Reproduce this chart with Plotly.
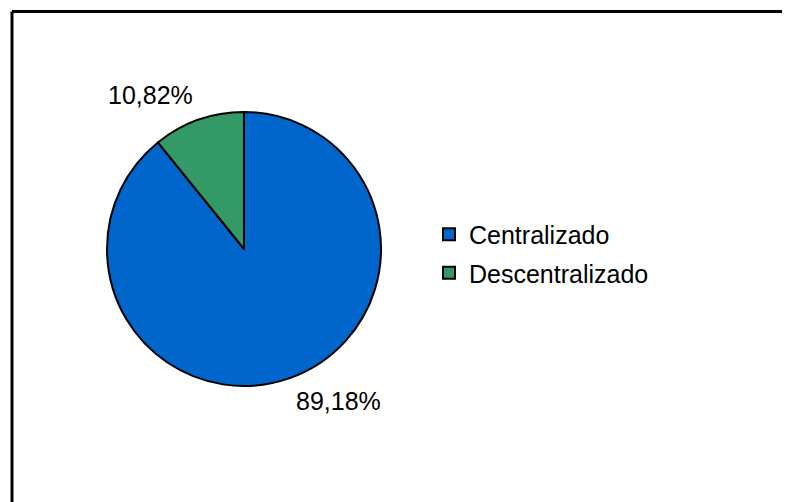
import plotly.graph_objects as go

labels = ["Centralizado", "Descentralizado"]
values = [89.18, 10.82]
colors = ["#0066CC", "#339966"]

W, H = 790, 502
OFF = 8  # page body margin pushes the figure 8px right/down


def px_x(x):
    return (x - OFF) / W


def px_y(y):
    return 1 - (y - OFF) / H


fig = go.Figure()

fig.add_trace(go.Pie(
    labels=labels,
    values=values,
    sort=False,
    direction="clockwise",
    rotation=0,
    marker=dict(colors=colors, line=dict(color="black", width=2)),
    textinfo="none",
    hoverinfo="label+percent",
    showlegend=False,
    domain=dict(x=[px_x(107), px_x(381)], y=[px_y(386), px_y(112)]),
))

# legend entries as dummy markers so the spacing can be tuned
for name, c in zip(labels, colors):
    fig.add_trace(go.Scatter(
        x=[None], y=[None], mode="markers", name=name, legendgroup=name,
        marker=dict(symbol="square", size=16, color=c, line=dict(color="black", width=2)),
    ))

# percentage labels, text built from the values
label_pos = [(338, 401), (150, 95)]
for v, (lx, ly) in zip(values, label_pos):
    fig.add_annotation(
        x=px_x(lx), y=px_y(ly), xref="paper", yref="paper", showarrow=False,
        xanchor="center", yanchor="middle",
        text=f"{v:.2f}%".replace(".", ","),
        font=dict(size=25, color="black"),
    )

# chart frame
fig.add_shape(type="line", xref="paper", yref="paper", x0=px_x(12), x1=1.05, y0=px_y(11.5), y1=px_y(11.5),
              line=dict(color="black", width=3))
fig.add_shape(type="line", xref="paper", yref="paper", x0=px_x(12), x1=px_x(12), y0=px_y(11.5), y1=-0.05,
              line=dict(color="black", width=3))

fig.update_layout(
    width=W, height=H,
    margin=dict(l=0, r=0, t=0, b=0),
    paper_bgcolor="white",
    plot_bgcolor="white",
    font=dict(family="Arial, Liberation Sans", size=25, color="black"),
    xaxis=dict(visible=False),
    yaxis=dict(visible=False),
    legend=dict(x=px_x(429), y=px_y(253.5), yanchor="middle", xanchor="left",
                tracegroupgap=3, bgcolor="rgba(0,0,0,0)", itemsizing="constant"),
)

fig.write_html("out.html")
